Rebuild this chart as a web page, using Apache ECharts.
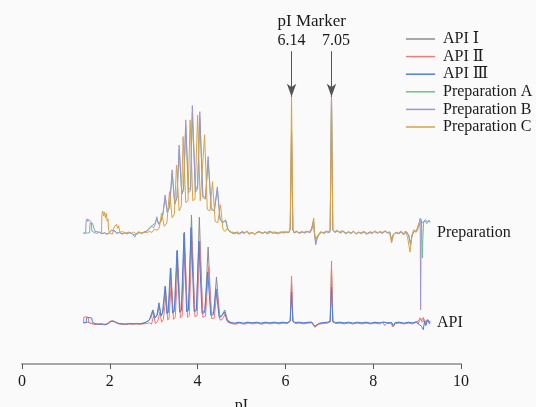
<!DOCTYPE html>
<html lang="en">
<head>
    <meta charset="UTF-8">
    <title>cIEF profiles</title>
    <script src="https://cdn.jsdelivr.net/npm/echarts@6/dist/echarts.min.js"></script>
    <style>
        html, body { margin: 0; padding: 0; background: #fafafa; }
        #main { width: 536px; height: 407px; }
    </style>
</head>
<body>
    <div id="main"></div>

    <script>
        // x axis ticks (pI)
        var xTicks = [0, 2, 4, 6, 8, 10];
        var seriesNames = ['API Ⅰ', 'API Ⅱ', 'API Ⅲ', 'Preparation A', 'Preparation B', 'Preparation C'];
        var markerValues = [6.14, 7.05];

        // traces: [pI, intensity above the trace's own baseline]
        var apiI = [
            [1.40,0],[1.50,0.2],[1.56,-0.1],[1.62,-0.3],[1.70,-0.4],[1.78,-0.3],[1.86,-0.5],[1.94,-0.3],[2.00,0.4],[2.06,0.5],
            [2.12,0.2],[2.18,-0.2],[2.26,-0.3],[2.34,-0.4],[2.42,-0.2],[2.50,-0.3],[2.58,-0.2],[2.66,-0.3],[2.74,-0.1],[2.82,0.2],
            [2.88,0.6],[2.93,1.2],[2.99,3.6],[3.03,1.6],[3.08,2.2],[3.13,5.0],[3.17,2.0],[3.21,3.0],[3.27,10.6],[3.31,2.6],
            [3.34,3.2],[3.39,16.1],[3.44,2.8],[3.48,3.6],[3.54,21.4],[3.60,3.0],[3.64,3.8],[3.70,26.7],[3.76,3.2],[3.80,4.0],
            [3.86,31.7],[3.93,3.5],[3.98,4.0],[4.04,31.1],[4.11,3.2],[4.17,3.6],[4.24,22.3],[4.31,2.8],[4.37,3.0],[4.43,13.5],
            [4.50,2.0],[4.55,2.2],[4.62,3.8],[4.68,0.8],[4.75,0.2],[4.85,-0.2],[4.95,0.1],[5.05,-0.2],[5.15,0.1],[5.25,-0.1],
            [5.35,0.1],[5.45,-0.2],[5.55,0.1],[5.65,-0.1],[5.75,0.1],[5.85,-0.1],[5.95,0.1],[6.05,0.0],[6.11,0.6],[6.14,11.7],
            [6.17,0.5],[6.22,0.0],[6.32,0.1],[6.42,-0.1],[6.52,0.1],[6.60,0.2],[6.64,0.7],[6.67,-1.0],[6.70,-0.6],[6.76,-0.2],
            [6.86,0.0],[6.96,0.1],[7.02,0.4],[7.05,15.5],[7.08,0.4],[7.14,0.0],[7.24,0.1],[7.34,-0.1],[7.44,0.1],[7.54,-0.2],
            [7.64,0.1],[7.74,-0.1],[7.84,0.1],[7.94,-0.2],[8.04,0.1],[8.14,-0.1],[8.24,0.2],[8.34,-0.1],[8.42,0.1],[8.46,-1.0],
            [8.50,0.0],[8.60,0.1],[8.70,-0.2],[8.80,0.1],[8.90,-0.1],[8.98,0.3],[9.04,0.6],[9.08,1.2],[9.12,0.2],[9.16,1.0],
            [9.20,0.3],[9.25,0.6],[9.30,0.4]
        ];
        var apiII = [
            [1.40,0],[1.41,1.7],[1.46,1.8],[1.51,1.6],[1.52,0.2],[1.58,-0.2],[1.64,-0.4],[1.72,-0.5],[1.80,-0.4],[1.88,-0.6],
            [1.95,-0.3],[2.01,0.5],[2.07,0.6],[2.13,0.2],[2.20,-0.3],[2.28,-0.4],[2.36,-0.5],[2.44,-0.3],[2.52,-0.4],[2.60,-0.3],
            [2.68,-0.4],[2.76,-0.3],[2.84,-0.2],[2.90,0.0],[2.95,-0.4],[3.00,2.2],[3.04,-0.2],[3.09,0.4],[3.14,3.2],[3.18,0.2],
            [3.22,1.0],[3.28,7.8],[3.32,0.8],[3.35,1.4],[3.40,12.0],[3.45,1.0],[3.49,1.6],[3.55,16.2],[3.61,1.4],[3.65,2.0],
            [3.71,20.5],[3.77,1.6],[3.81,2.2],[3.87,24.0],[3.94,1.8],[3.99,2.2],[4.05,23.9],[4.12,1.6],[4.18,2.0],[4.25,16.5],
            [4.32,1.2],[4.38,1.4],[4.44,9.7],[4.51,0.8],[4.56,1.0],[4.63,2.6],[4.69,0.2],[4.76,-0.2],[4.86,-0.4],[4.96,-0.1],
            [5.06,-0.4],[5.16,-0.1],[5.26,-0.3],[5.36,-0.1],[5.46,-0.4],[5.56,-0.1],[5.66,-0.3],[5.76,-0.1],[5.86,-0.3],[5.96,-0.1],
            [6.06,-0.2],[6.11,0.6],[6.14,13.8],[6.17,0.6],[6.22,-0.2],[6.32,-0.1],[6.42,-0.3],[6.52,-0.1],[6.60,0.0],[6.64,0.5],
            [6.67,-1.3],[6.70,-0.9],[6.76,-0.4],[6.86,-0.2],[6.96,-0.1],[7.02,0.3],[7.05,18.2],[7.08,0.4],[7.14,-0.2],[7.24,-0.1],
            [7.34,-0.3],[7.44,-0.1],[7.54,-0.3],[7.64,-0.1],[7.74,-0.3],[7.84,-0.1],[7.94,-0.3],[8.04,-0.1],[8.14,-0.3],[8.22,0.2],
            [8.26,-0.8],[8.30,-0.2],[8.40,-0.1],[8.45,-1.2],[8.50,-0.2],[8.60,-0.1],[8.70,-0.3],[8.80,-0.1],[8.90,-0.3],[8.98,0.2],
            [9.03,-0.4],[9.06,1.5],[9.10,0.5],[9.14,1.6],[9.18,-0.5],[9.22,0.8],[9.26,0.2],[9.30,0.5]
        ];
        var apiIII = [
            [1.40,0],[1.46,0.1],[1.47,1.5],[1.53,1.6],[1.59,1.4],[1.60,0.3],[1.66,-0.2],[1.74,-0.4],[1.82,-0.3],[1.90,-0.5],
            [1.97,-0.2],[2.03,0.4],[2.09,0.5],[2.15,0.1],[2.22,-0.2],[2.30,-0.3],[2.38,-0.4],[2.46,-0.2],[2.54,-0.3],[2.62,-0.2],
            [2.70,-0.3],[2.78,-0.1],[2.84,0.3],[2.90,0.9],[2.94,0.6],[2.98,3.8],[3.02,1.4],[3.07,2.0],[3.12,5.9],[3.16,2.2],
            [3.20,3.0],[3.26,10.8],[3.30,2.8],[3.33,3.4],[3.38,16.1],[3.43,3.0],[3.47,3.8],[3.53,21.2],[3.59,3.2],[3.63,3.8],
            [3.69,26.4],[3.75,3.2],[3.79,3.8],[3.85,28.0],[3.92,3.3],[3.97,3.6],[4.03,24.0],[4.10,2.8],[4.16,3.0],[4.23,15.0],
            [4.30,2.2],[4.36,2.4],[4.42,10.0],[4.49,1.6],[4.54,1.8],[4.61,3.2],[4.67,0.6],[4.74,0.1],[4.84,-0.1],[4.94,0.2],
            [5.04,-0.1],[5.14,0.2],[5.24,0.0],[5.34,0.2],[5.44,-0.1],[5.54,0.2],[5.64,0.0],[5.74,0.2],[5.84,0.0],[5.94,0.2],
            [6.04,0.0],[6.11,0.5],[6.14,9.1],[6.17,0.4],[6.22,0.1],[6.32,0.2],[6.42,0.0],[6.52,0.2],[6.60,0.2],[6.64,0.6],
            [6.67,-1.1],[6.70,-0.7],[6.76,-0.2],[6.86,0.1],[6.96,0.2],[7.02,0.4],[7.05,10.5],[7.08,0.4],[7.14,0.1],[7.24,0.2],
            [7.34,0.0],[7.44,0.2],[7.54,-0.1],[7.64,0.2],[7.74,0.0],[7.84,0.2],[7.94,-0.1],[8.04,0.2],[8.14,0.0],[8.24,0.2],
            [8.34,0.0],[8.42,0.1],[8.46,-0.9],[8.50,0.1],[8.60,0.2],[8.70,-0.1],[8.80,0.2],[8.90,0.0],[8.98,0.3],[9.05,-0.5],
            [9.10,-1.0],[9.14,-2.0],[9.17,0.5],[9.20,-0.8],[9.24,1.0],[9.28,-0.3],[9.30,0.2]
        ];
        var prepA = [
            [1.40,0],[1.47,0],[1.54,0.1],[1.55,3.0],[1.58,3.4],[1.61,2.8],[1.64,3.2],[1.66,0.5],[1.70,0],[1.76,0.3],
            [1.82,-0.2],[1.88,0.1],[1.94,-0.3],[2.00,0.2],[2.04,0.8],[2.08,1.1],[2.12,0.5],[2.16,-0.1],[2.22,0.2],[2.28,-0.3],
            [2.34,0.1],[2.40,-0.2],[2.46,0.3],[2.52,-0.3],[2.58,-0.6],[2.62,-0.1],[2.68,0.2],[2.74,-0.1],[2.80,0.4],[2.86,0.8],
            [2.91,1.6],[2.96,2.2],[3.00,1.8],[3.04,3.0],[3.07,4.4],[3.11,2.8],[3.16,3.4],[3.21,5.6],[3.26,10.5],[3.31,6.2],
            [3.36,7.6],[3.42,17.5],[3.48,8.6],[3.53,10.4],[3.58,24.5],[3.64,11.5],[3.68,13.2],[3.73,31.5],[3.79,12.5],[3.84,13.5],
            [3.88,35.5],[3.95,12.5],[4.00,14.0],[4.05,34.0],[4.12,11.0],[4.18,10.5],[4.24,21.5],[4.31,7.5],[4.38,6.5],[4.45,13.0],
            [4.51,4.2],[4.57,3.2],[4.64,3.6],[4.69,1.0],[4.75,0.3],[4.82,-0.1],[4.88,0.3],[4.94,-0.2],[5.00,0.4],[5.06,0.0],
            [5.12,0.5],[5.18,-0.2],[5.24,0.2],[5.30,-0.3],[5.36,0.3],[5.42,0.4],[5.48,0.0],[5.54,0.4],[5.60,-0.1],[5.66,0.5],
            [5.72,0.0],[5.78,0.3],[5.84,-0.1],[5.90,0.4],[5.96,0.1],[6.02,0.4],[6.08,0.2],[6.11,1.2],[6.14,30.0],[6.17,1.0],
            [6.20,0.1],[6.26,0.5],[6.32,0.0],[6.38,0.4],[6.44,0.1],[6.50,0.5],[6.56,0.2],[6.60,1.2],[6.64,3.8],[6.66,0.3],
            [6.69,-2.8],[6.72,-1.5],[6.76,-0.4],[6.82,0.3],[6.88,0.0],[6.94,0.5],[7.00,0.2],[7.02,0.8],[7.05,40.5],[7.08,0.9],
            [7.13,0.3],[7.19,0.7],[7.25,0.1],[7.31,0.6],[7.37,-0.1],[7.43,0.4],[7.49,0.0],[7.55,0.5],[7.61,-0.2],[7.67,0.3],
            [7.73,0.0],[7.79,0.4],[7.85,-0.2],[7.91,0.3],[7.97,0.0],[8.03,0.5],[8.09,0.1],[8.15,0.4],[8.21,0.0],[8.27,0.6],
            [8.33,0.1],[8.38,0.3],[8.42,-2.0],[8.46,-0.3],[8.52,0.2],[8.58,-0.1],[8.64,0.4],[8.70,-0.3],[8.76,0.4],[8.81,-0.6],
            [8.85,-3.0],[8.89,-0.4],[8.94,0.6],[8.99,0.4],[9.03,1.6],[9.07,3.0],[9.10,4.0],[9.12,-7.3],[9.13,-2.0],[9.15,3.4],
            [9.19,4.0],[9.23,3.2],[9.27,3.8],[9.30,3.5]
        ];
        var prepB = [
            [1.40,0],[1.45,0],[1.46,3.6],[1.48,4.2],[1.50,3.4],[1.52,4.0],[1.54,3.6],[1.56,3.9],[1.58,3.2],[1.59,0.6],
            [1.64,0.2],[1.70,-0.1],[1.76,0.3],[1.82,-0.2],[1.88,0.1],[1.94,-0.4],[2.00,0.2],[2.04,0.9],[2.08,1.2],[2.12,0.6],
            [2.16,-0.1],[2.22,0.2],[2.28,-0.3],[2.34,0.1],[2.40,-0.2],[2.46,0.3],[2.52,-0.4],[2.57,-1.2],[2.60,-0.2],[2.66,0.2],
            [2.72,-0.1],[2.78,0.3],[2.84,0.6],[2.90,1.2],[2.95,2.0],[3.00,1.6],[3.04,2.8],[3.07,4.8],[3.11,2.6],[3.16,3.2],
            [3.21,5.5],[3.26,11.2],[3.31,6.0],[3.36,7.5],[3.42,18.6],[3.48,8.5],[3.53,10.5],[3.58,25.9],[3.64,11.5],[3.68,12.5],
            [3.73,33.3],[3.79,11.8],[3.84,12.5],[3.88,37.5],[3.95,12.0],[4.00,13.0],[4.05,35.7],[4.12,10.5],[4.18,10.0],[4.24,22.5],
            [4.31,7.0],[4.38,6.5],[4.45,13.6],[4.51,4.0],[4.57,3.0],[4.64,3.9],[4.69,1.2],[4.75,0.4],[4.82,-0.2],[4.88,0.2],
            [4.94,-0.3],[5.00,0.3],[5.06,-0.1],[5.12,0.4],[5.18,-0.3],[5.24,0.1],[5.30,-0.4],[5.36,0.2],[5.42,0.3],[5.48,-0.1],
            [5.54,0.3],[5.60,-0.2],[5.66,0.4],[5.72,-0.1],[5.78,0.2],[5.84,-0.2],[5.90,0.3],[5.96,0.0],[6.02,0.3],[6.08,0.1],
            [6.11,1.1],[6.14,29.7],[6.17,0.9],[6.20,0.0],[6.26,0.4],[6.32,-0.1],[6.38,0.3],[6.44,0.0],[6.50,0.4],[6.56,0.1],
            [6.60,1.0],[6.64,3.6],[6.66,0.2],[6.69,-3.5],[6.72,-1.8],[6.76,-0.5],[6.82,0.2],[6.88,-0.1],[6.94,0.4],[7.00,0.1],
            [7.02,0.7],[7.05,41.0],[7.08,0.8],[7.13,0.2],[7.19,0.6],[7.25,0.0],[7.31,0.5],[7.37,-0.2],[7.43,0.3],[7.49,-0.1],
            [7.55,0.4],[7.61,-0.3],[7.67,0.2],[7.73,-0.1],[7.79,0.3],[7.85,-0.3],[7.91,0.2],[7.97,-0.1],[8.03,0.4],[8.09,0.0],
            [8.15,0.3],[8.21,-0.1],[8.27,0.5],[8.33,0.0],[8.38,0.2],[8.42,-2.4],[8.46,-0.4],[8.52,0.1],[8.58,-0.2],[8.64,0.3],
            [8.70,-0.4],[8.76,0.3],[8.81,-0.8],[8.85,-3.5],[8.89,-0.5],[8.94,0.5],[8.99,0.8],[9.02,2.0],[9.05,3.2],[9.07,4.4],
            [9.08,-22.6],[9.09,-4.0],[9.10,3.0],[9.14,2.5],[9.18,3.5],[9.22,2.8],[9.26,3.6],[9.30,3.0]
        ];
        var prepC = [
            [1.81,0],[1.82,5.5],[1.84,6.5],[1.86,5.0],[1.88,6.2],[1.90,4.5],[1.92,5.8],[1.94,3.5],[1.96,4.2],[1.97,1.5],
            [1.99,0],[2.02,-0.5],[2.06,-0.3],[2.08,0.2],[2.10,1.8],[2.13,1.5],[2.15,2.6],[2.18,1.4],[2.20,2.2],[2.23,0.3],
            [2.30,0.4],[2.36,-0.1],[2.42,0.3],[2.48,-0.2],[2.54,0.3],[2.60,-0.2],[2.66,0.4],[2.72,0.0],[2.78,0.3],[2.84,0.1],
            [2.90,0.5],[2.96,0.2],[3.02,1.2],[3.08,0.8],[3.13,1.8],[3.18,5.9],[3.24,2.0],[3.30,3.0],[3.36,12.2],[3.42,4.5],
            [3.47,5.5],[3.52,20.0],[3.58,6.5],[3.63,8.0],[3.67,28.4],[3.73,9.0],[3.78,9.5],[3.83,33.3],[3.89,9.5],[3.94,10.0],
            [4.00,34.7],[4.06,9.5],[4.10,9.0],[4.16,28.9],[4.22,7.0],[4.28,6.5],[4.34,15.1],[4.40,3.5],[4.46,3.0],[4.52,8.3],
            [4.58,1.0],[4.63,0.5],[4.68,1.5],[4.75,0.2],[4.80,0.3],[4.86,-0.2],[4.92,0.4],[4.97,-0.3],[5.02,0.5],[5.08,0.1],
            [5.13,0.6],[5.18,-0.1],[5.24,0.3],[5.30,-0.4],[5.35,0.2],[5.41,0.5],[5.46,-0.1],[5.52,0.3],[5.57,0.0],[5.63,0.6],
            [5.68,0.1],[5.74,0.4],[5.79,-0.2],[5.85,0.3],[5.90,0.0],[5.96,0.5],[6.02,0.1],[6.08,0.3],[6.11,1.5],[6.14,40.6],
            [6.17,1.2],[6.20,0.2],[6.26,0.6],[6.31,0.1],[6.37,0.5],[6.42,0.2],[6.48,0.6],[6.53,0.3],[6.58,1.0],[6.62,2.5],
            [6.645,4.4],[6.66,0.5],[6.69,-2.0],[6.72,-1.0],[6.76,-0.3],[6.80,0.4],[6.86,0.1],[6.92,0.6],[6.97,0.3],[7.02,0.8],
            [7.05,40.6],[7.08,1.0],[7.12,0.4],[7.17,0.9],[7.22,0.2],[7.28,0.7],[7.33,0.5],[7.39,-0.1],[7.44,0.4],[7.50,0.0],
            [7.55,0.6],[7.61,-0.2],[7.66,0.3],[7.72,-0.1],[7.77,0.5],[7.83,0.2],[7.88,-0.3],[7.94,0.4],[7.99,0.1],[8.05,0.6],
            [8.10,0.0],[8.16,0.5],[8.21,0.2],[8.27,0.7],[8.32,0.1],[8.37,0.4],[8.42,-2.9],[8.46,-0.5],[8.52,0.3],[8.57,0.0],
            [8.63,0.5],[8.68,-0.4],[8.73,0.6],[8.78,-1.0],[8.84,-5.6],[8.88,-0.8],[8.92,1.0],[8.97,0.2],[9.01,1.5],[9.04,3.0]
        ];

        // vertical offsets of the two groups (layout)
        var apiBase = 12.1;
        var prepBase = 38.5;
        var traces = [apiI, apiII, apiIII, prepA, prepB, prepC];
        var bases = [apiBase, apiBase, apiBase, prepBase, prepBase, prepBase];
        var colors = ['#8c8c8c', '#ef7b7b', '#4d7fdb', '#6dbf8e', '#a193d2', '#d9a245'];

        var font = "'Liberation Serif', 'DejaVu Serif', serif";
        var myChart = echarts.init(document.getElementById('main'));

        var series = traces.map(function (t, i) {
            return {
                name: seriesNames[i],
                type: 'line',
                symbol: 'none',
                data: t.map(function (p) { return [p[0], p[1] + bases[i]]; }),
                lineStyle: { width: 1, color: colors[i] },
                itemStyle: { color: colors[i] }
            };
        });

        // annotations: marker arrows and group labels
        var txt = { color: '#1a1a1a', fontFamily: font, fontSize: 16 };
        series.push({
            type: 'line',
            data: [],
            silent: true,
            markLine: {
                silent: true,
                symbol: ['none', 'arrow'],
                symbolSize: [7, 13],
                label: { show: false },
                lineStyle: { color: '#555', width: 1, type: 'solid' },
                data: markerValues.map(function (v) {
                    return [{ coord: [v, 92] }, { coord: [v, 78.6] }];
                })
            },
            markPoint: {
                symbol: 'circle',
                symbolSize: 0,
                label: Object.assign({ show: true, position: 'inside' }, txt),
                data: [
                    { coord: [6.6, 100.8], value: 'pI Marker', label: Object.assign({ show: true, position: 'inside' }, txt, { fontSize: 17 }) },
                    { coord: [6.14, 95.2], value: '6.14' },
                    { coord: [7.15, 95.2], value: '7.05' },
                    { coord: [9.34, prepBase], value: 'Preparation',
                      label: Object.assign({ show: true, position: 'right', distance: 5 }, txt) },
                    { coord: [9.34, apiBase], value: 'API',
                      label: Object.assign({ show: true, position: 'right', distance: 5 }, txt) }
                ]
            }
        });

        var option = {
            animation: false,
            backgroundColor: '#fafafa',
            textStyle: { fontFamily: font },
            grid: { left: 22, right: 75, top: 7, bottom: 43, containLabel: false, outerBoundsMode: 'none' },
            legend: {
                data: seriesNames,
                orient: 'vertical',
                left: 406,
                top: 31,
                padding: 0,
                icon: 'rect',
                itemWidth: 29,
                itemHeight: 1.5,
                itemGap: 1.6,
                textStyle: { color: '#1a1a1a', fontFamily: font, fontSize: 16, lineHeight: 16, padding: [0, 0, 0, 3] }
            },
            xAxis: {
                type: 'value',
                min: xTicks[0],
                max: xTicks[xTicks.length - 1],
                interval: xTicks[1] - xTicks[0],
                name: 'pI',
                nameLocation: 'middle',
                nameGap: 34,
                nameTextStyle: { color: '#1a1a1a', fontFamily: font, fontSize: 16 },
                axisLine: { lineStyle: { color: '#a8a8a8', width: 2 } },
                axisTick: { length: 5, lineStyle: { color: '#555', width: 1 } },
                axisLabel: { color: '#1a1a1a', fontFamily: font, fontSize: 16, margin: 10 },
                splitLine: { show: false }
            },
            yAxis: {
                type: 'value',
                show: false,
                min: 0,
                max: 105
            },
            series: series
        };

        myChart.setOption(option);
    </script>
</body>
</html>
